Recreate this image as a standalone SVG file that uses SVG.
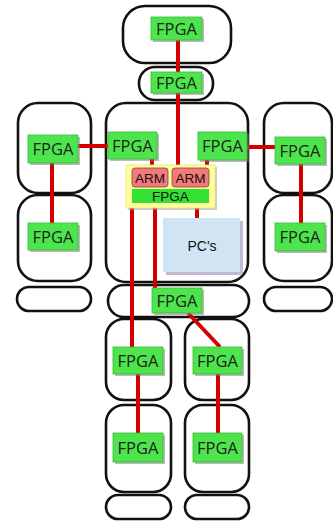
<svg xmlns="http://www.w3.org/2000/svg" width="333" height="523" viewBox="0 0 333 523">
<style>
.body{fill:none;stroke:#111;stroke-width:2.6}
.fp rect.b{fill:#4ee44e;stroke:#3cb83c;stroke-width:0.8}
.fp rect.s{fill:#777;opacity:0.5}
.fp text{font-family:"Open Sans","Liberation Sans",sans-serif;font-size:16.5px;fill:#1a261a;text-anchor:middle}
.wire{stroke:#d40000;stroke-width:4;fill:none}
.arm rect{fill:#f47a7a;stroke:#7a4a4a;stroke-width:0.8}
.lbl{font-family:"Liberation Sans","Open Sans",sans-serif;fill:#111;text-anchor:middle}
</style>
<rect width="333" height="523" fill="#fff"/>
<g id="body">
<rect class="body" x="123" y="6" width="108" height="57" rx="22"/>
<rect class="body" x="139" y="67" width="74" height="33" rx="16"/>
<rect class="body" x="106" y="103" width="142" height="179" rx="20"/>
<rect class="body" x="18" y="103" width="73" height="90" rx="20"/>
<rect class="body" x="18" y="195" width="73" height="86" rx="20"/>
<rect class="body" x="17" y="287" width="74" height="24" rx="12"/>
<rect class="body" x="264" y="103" width="68" height="90" rx="20"/>
<rect class="body" x="264" y="195" width="68" height="86" rx="20"/>
<rect class="body" x="264" y="287" width="68" height="24" rx="12"/>
<rect class="body" x="108" y="285" width="141" height="32" rx="16"/>
<rect class="body" x="106" y="319" width="65" height="81" rx="18"/>
<rect class="body" x="185" y="319" width="64" height="81" rx="18"/>
<rect class="body" x="106" y="405" width="65" height="87" rx="18"/>
<rect class="body" x="185" y="405" width="64" height="87" rx="18"/>
<rect class="body" x="106" y="495" width="65" height="24" rx="12"/>
<rect class="body" x="185" y="495" width="64" height="24" rx="12"/>
</g>
<g id="connectors">
<line class="wire" x1="178" y1="40" x2="178" y2="72"/>
<line class="wire" x1="178" y1="93" x2="178" y2="166"/>
<line class="wire" x1="78" y1="146" x2="108" y2="146"/>
<line class="wire" x1="52" y1="163" x2="52" y2="223"/>
<line class="wire" x1="247" y1="147" x2="275" y2="147"/>
<line class="wire" x1="301" y1="164" x2="301" y2="223"/>
<line class="wire" x1="152" y1="159" x2="152" y2="166"/>
<line class="wire" x1="207" y1="160" x2="207" y2="166"/>
<line class="wire" x1="155" y1="207" x2="155" y2="288"/>
<line class="wire" x1="132" y1="207" x2="132" y2="347"/>
<line class="wire" x1="197" y1="207" x2="197" y2="218"/>
<line class="wire" x1="188" y1="313" x2="220" y2="347"/>
<line class="wire" x1="138" y1="374" x2="138" y2="433"/>
<line class="wire" x1="218" y1="374" x2="218" y2="433"/>
</g>
<g id="fpga-head" class="fp"><rect class="s" x="153" y="19" width="51" height="23"/><rect class="b" x="151" y="17" width="51" height="23"/><text x="176.5" y="34.5">FPGA</text></g>
<g id="fpga-neck" class="fp"><rect class="s" x="153" y="74" width="51" height="21"/><rect class="b" x="151" y="72" width="51" height="21"/><text x="176.5" y="88.5">FPGA</text></g>
<g id="fpga-larm-up" class="fp"><rect class="s" x="30" y="137" width="50" height="28"/><rect class="b" x="28" y="135" width="50" height="28"/><text x="53" y="155">FPGA</text></g>
<g id="fpga-larm-low" class="fp"><rect class="s" x="30" y="225" width="50" height="27"/><rect class="b" x="28" y="223" width="50" height="27"/><text x="53" y="242.5">FPGA</text></g>
<g id="fpga-torso-l" class="fp"><rect class="s" x="110" y="134" width="49" height="27"/><rect class="b" x="108" y="132" width="49" height="27"/><text x="132.5" y="151.5">FPGA</text></g>
<g id="fpga-torso-r" class="fp"><rect class="s" x="200" y="134" width="49" height="28"/><rect class="b" x="198" y="132" width="49" height="28"/><text x="222.5" y="152">FPGA</text></g>
<g id="fpga-rarm-up" class="fp"><rect class="s" x="277" y="139" width="50" height="27"/><rect class="b" x="275" y="137" width="50" height="27"/><text x="300" y="156.5">FPGA</text></g>
<g id="fpga-rarm-low" class="fp"><rect class="s" x="277" y="225" width="50" height="28"/><rect class="b" x="275" y="223" width="50" height="28"/><text x="300" y="243">FPGA</text></g>
<g id="fpga-hip" class="fp"><rect class="s" x="154" y="290" width="50" height="25"/><rect class="b" x="152" y="288" width="50" height="25"/><text x="177" y="306.5">FPGA</text></g>
<g id="fpga-lleg-up" class="fp"><rect class="s" x="115" y="349" width="50" height="27"/><rect class="b" x="113" y="347" width="50" height="27"/><text x="138" y="366.5">FPGA</text></g>
<g id="fpga-rleg-up" class="fp"><rect class="s" x="195" y="349" width="49" height="27"/><rect class="b" x="193" y="347" width="49" height="27"/><text x="217.5" y="366.5">FPGA</text></g>
<g id="fpga-lleg-low" class="fp"><rect class="s" x="115" y="435" width="50" height="29"/><rect class="b" x="113" y="433" width="50" height="29"/><text x="138" y="453.5">FPGA</text></g>
<g id="fpga-rleg-low" class="fp"><rect class="s" x="195" y="435" width="49" height="29"/><rect class="b" x="193" y="433" width="49" height="29"/><text x="217.5" y="453.5">FPGA</text></g>
<g id="soc">
<rect x="128" y="167" width="89" height="43" fill="#999" opacity="0.5"/>
<rect x="126" y="165" width="89" height="43" fill="#ffff9c" stroke="#e8e070" stroke-width="0.8"/>
<g class="arm"><rect x="132" y="168" width="36" height="19" rx="3"/><rect x="172" y="168" width="37" height="19" rx="3"/></g>
<text class="lbl" x="150" y="182.5" font-size="13.5">ARM</text>
<text class="lbl" x="190.5" y="182.5" font-size="13.5">ARM</text>
<rect x="132" y="189" width="77" height="14" fill="#35e035"/>
<text class="lbl" x="170.5" y="201" font-size="13.5">FPGA</text>
</g>
<g id="pcs">
<rect x="166" y="221" width="77" height="54" fill="#9a8ab8" opacity="0.6"/>
<rect x="163" y="218" width="77" height="54" fill="#d0e4f4"/>
<text class="lbl" x="202" y="251" font-size="14">PC's</text>
</g>
</svg>
